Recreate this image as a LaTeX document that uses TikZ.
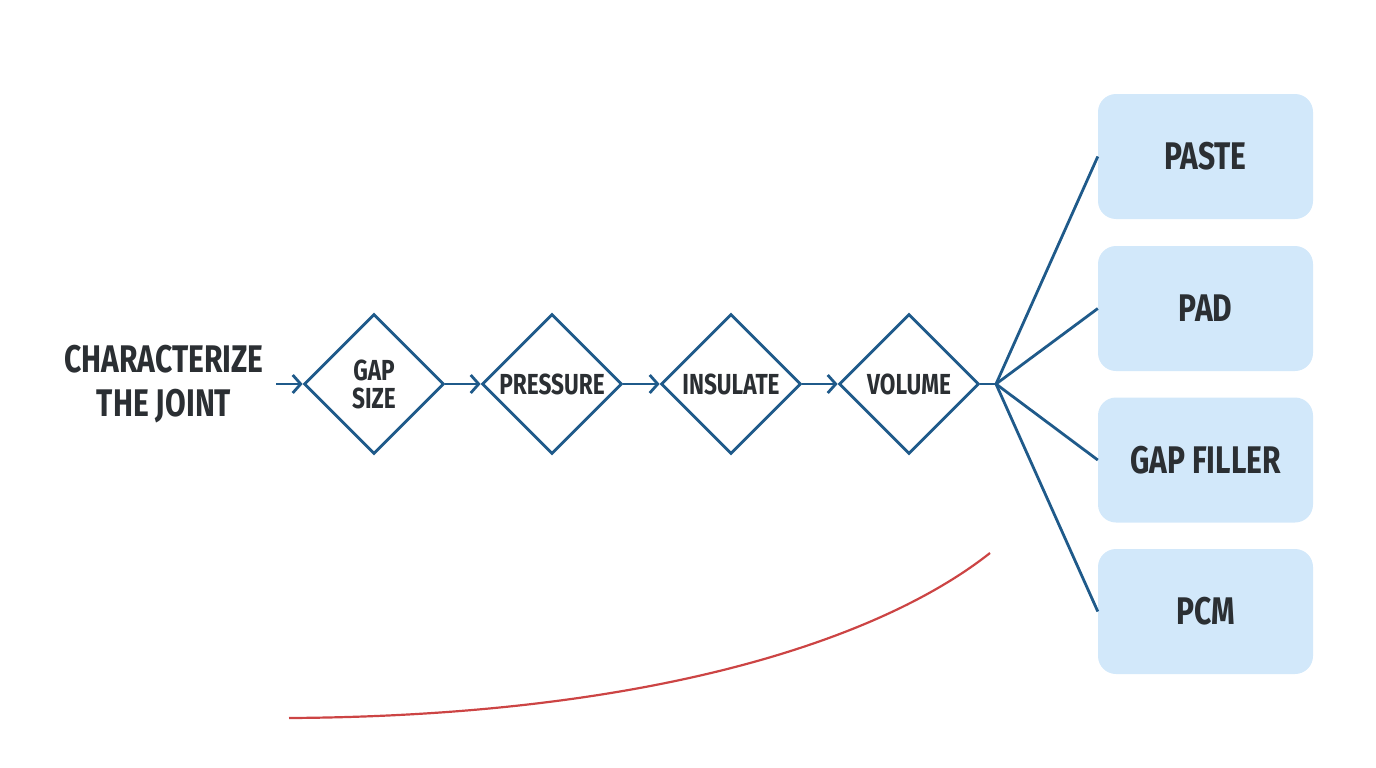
\documentclass[tikz,border=0pt]{standalone}
\usepackage{fontspec}
\setmainfont{Fira Sans}[FakeStretch=0.78,UprightFont=* SemiBold,BoldFont=* Bold]
\usetikzlibrary{shapes.geometric,arrows.meta}
\definecolor{lineb}{HTML}{1F5A8A}
\definecolor{txt}{HTML}{2B2F33}
\definecolor{boxf}{HTML}{D2E8FA}
\definecolor{redc}{HTML}{CC4444}
\begin{document}
\begin{tikzpicture}[x=1pt,y=-1pt,
  dia/.style={draw=lineb,line width=2.8pt,shape=diamond,minimum width=140pt,minimum height=140pt,inner sep=0pt,align=center,font=\fontsize{29}{28}\selectfont\bfseries,text=txt},
  box/.style={fill=boxf,rounded corners=18pt,minimum width=215pt,minimum height=125pt,font=\fontsize{38.5}{40}\selectfont\bfseries,text=txt},
  arr/.style={draw=lineb,line width=2.8pt,-{Straight Barb[length=8pt,width=18pt,line width=2.8pt]}},
  ln/.style={draw=lineb,line width=2.8pt}]
\useasboundingbox (0,0) rectangle (1376,768);
\node[font=\fontsize{38.5}{44}\selectfont\bfseries,text=txt,align=center] (c) at (164,384) {CHARACTERIZE\\THE JOINT};
\node[dia] (d1) at (374,384) {GAP\\SIZE};
\node[dia] (d2) at (552,384) {PRESSURE};
\node[dia] (d3) at (731,384) {INSULATE};
\node[dia] (d4) at (909,384) {VOLUME};
\coordinate (s) at (276,384);
\draw[arr] (s) -- (d1.west);
\draw[arr] (d1.east) -- (d2.west);
\draw[arr] (d2.east) -- (d3.west);
\draw[arr] (d3.east) -- (d4.west);
\node[box] (b1) at (1205.5,156.5) {PASTE};
\node[box] (b2) at (1205.5,308.5) {PAD};
\node[box] (b3) at (1205.5,460) {GAP FILLER};
\node[box] (b4) at (1205.5,611.5) {PCM};
\coordinate (j) at (996,384);
\draw[ln] (d4.east) -- (j);
\foreach \b in {b1,b2,b3,b4} \draw[ln] (j) -- (\b.west);
\coordinate (r1) at (289,718);
\coordinate (r2) at (990,553);
\draw[redc,line width=2.2pt] (r1) .. controls (650,716) and (880,640) .. (r2);
\end{tikzpicture}
\end{document}
